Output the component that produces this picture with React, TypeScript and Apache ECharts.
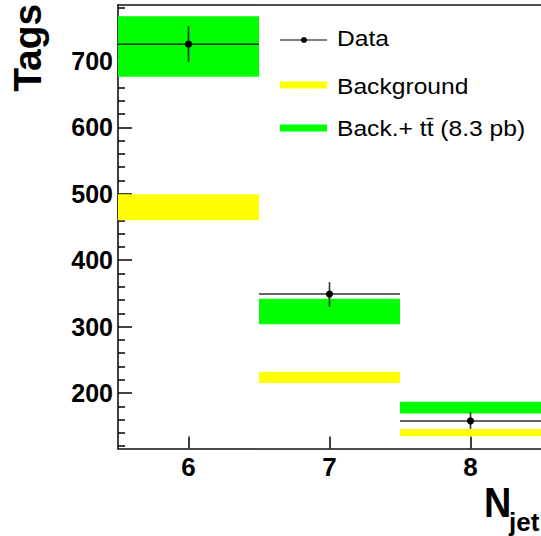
import React, { useEffect, useRef } from "react";
import * as echarts from "echarts";

const nJet = [6, 7, 8];
const dataVal = [725, 349, 158];
const dataLow = [698, 330, 146];
const dataHigh = [752, 367, 171];
const bgLow = [460, 215, 135];
const bgHigh = [499, 232, 146];
const totLow = [676, 303.5, 169];
const totHigh = [767, 342, 187];
const yMajorTicks = [200, 300, 400, 500, 600, 700];
const yMinorTicks = [120, 140, 160, 180, 220, 240, 260, 280, 320, 340, 360, 380, 420, 440, 460, 480, 520, 540, 560, 580, 620, 640, 660, 680, 720, 740, 760, 780];
const legendNames = ["Data", "Background", "Back.+ t\u0074\u0304 (8.3 pb)"];

const FONT = "'Liberation Sans', Arial, Helvetica, sans-serif";
const YELLOW = "#ffff00";
const GREEN = "#00ff00";

function bandRender(color: string) {
  return (params: any, api: any) => {
    const x = api.value(0);
    const lo = api.value(1);
    const hi = api.value(2);
    const p1 = api.coord([x - 0.5, hi]);
    const p2 = api.coord([x + 0.5, lo]);
    return {
      type: "rect",
      shape: { x: p1[0], y: p1[1], width: p2[0] - p1[0], height: p2[1] - p1[1] },
      style: { fill: color },
    };
  };
}

function dataRender(params: any, api: any) {
  const x = api.value(0);
  const v = api.value(1);
  const lo = api.value(2);
  const hi = api.value(3);
  const pl = api.coord([x - 0.5, v]);
  const pr = api.coord([x + 0.5, v]);
  const pc = api.coord([x, v]);
  const pt = api.coord([x, hi]);
  const pb = api.coord([x, lo]);
  const stroke = "rgba(0,0,0,0.8)";
  return {
    type: "group",
    children: [
      { type: "line", shape: { x1: pl[0], y1: pl[1], x2: pr[0], y2: pr[1] }, style: { stroke, lineWidth: 1.6 } },
      { type: "line", shape: { x1: pt[0], y1: pt[1], x2: pb[0], y2: pb[1] }, style: { stroke, lineWidth: 1.6 } },
      { type: "circle", shape: { cx: pc[0], cy: pc[1], r: 3.6 }, style: { fill: "#000" } },
    ],
  };
}

export default function App() {
  const ref = useRef<HTMLDivElement>(null);
  useEffect(() => {
    if (!ref.current) return;
    const chart = echarts.init(ref.current, null, { renderer: "svg" });
    const axisLine = { show: true, lineStyle: { color: "#111", width: 1.6 } };
    chart.setOption({
      animation: false,
      backgroundColor: "#fff",
      grid: { left: 118, top: 5, width: 424.5, height: 443.5, containLabel: false },
      xAxis: [
        {
          type: "value",
          min: 5.5,
          max: 8.5,
          position: "bottom",
          axisLine,
          axisTick: { show: true, inside: true, length: 12, lineStyle: { color: "#111", width: 1.6 }, customValues: nJet },
          axisLabel: {
            show: true,
            customValues: nJet,
            fontFamily: FONT,
            fontWeight: "bold",
            fontSize: 26,
            color: "#000",
            margin: 5,
          },
          splitLine: { show: false },
        },
        {
          type: "value",
          min: 5.5,
          max: 8.5,
          position: "top",
          axisLine,
          axisTick: { show: false },
          axisLabel: { show: false },
          splitLine: { show: false },
        },
      ],
      yAxis: [
        {
          type: "value",
          min: 116.5,
          max: 784,
          position: "left",
          axisLine,
          axisTick: { show: true, inside: true, length: 14, lineStyle: { color: "#111", width: 1.6 }, customValues: yMajorTicks },
          axisLabel: {
            show: true,
            customValues: yMajorTicks,
            fontFamily: FONT,
            fontWeight: "bold",
            fontSize: 25,
            color: "#000",
            margin: 5,
            padding: [0, 0, 6, 0],
          },
          splitLine: { show: false },
        },
        {
          type: "value",
          min: 116.5,
          max: 784,
          position: "left",
          axisLine: { show: false },
          axisTick: { show: true, inside: true, length: 7, lineStyle: { color: "#111", width: 1.6 }, customValues: yMinorTicks },
          axisLabel: { show: false },
          splitLine: { show: false },
        },
      ],
      series: [
        {
          type: "custom",
          name: legendNames[1],
          renderItem: bandRender(YELLOW),
          encode: { x: 0, y: [1, 2] },
          data: nJet.map((x, i) => [x, bgLow[i], bgHigh[i]]),
          z: 1,
        },
        {
          type: "custom",
          name: legendNames[2],
          renderItem: bandRender(GREEN),
          encode: { x: 0, y: [1, 2] },
          data: nJet.map((x, i) => [x, totLow[i], totHigh[i]]),
          z: 2,
        },
        {
          type: "custom",
          name: legendNames[0],
          renderItem: dataRender,
          encode: { x: 0, y: [1, 2, 3] },
          data: nJet.map((x, i) => [x, dataVal[i], dataLow[i], dataHigh[i]]),
          z: 3,
        },
      ],
      graphic: [
        { type: "line", shape: { x1: 280, y1: 40, x2: 327, y2: 40 }, style: { stroke: "#000", lineWidth: 1.2 } },
        { type: "circle", shape: { cx: 304, cy: 40, r: 3 }, style: { fill: "#000" } },
        {
          type: "text",
          x: 337,
          y: 38.7,
          scaleX: 1.12,
          style: { text: legendNames[0], font: `22px ${FONT}`, fill: "#000", align: "left", verticalAlign: "middle" },
        },
        { type: "rect", shape: { x: 280, y: 81.5, width: 47, height: 7 }, style: { fill: YELLOW } },
        {
          type: "text",
          x: 337,
          y: 86,
          scaleX: 1.12,
          style: { text: legendNames[1], font: `22px ${FONT}`, fill: "#000", align: "left", verticalAlign: "middle" },
        },
        { type: "rect", shape: { x: 280, y: 124.5, width: 47, height: 7 }, style: { fill: GREEN } },
        {
          type: "text",
          x: 337,
          y: 128.5,
          scaleX: 1.12,
          style: { text: legendNames[2], font: `22px ${FONT}`, fill: "#000", align: "left", verticalAlign: "middle" },
        },
        {
          type: "text",
          x: 27,
          y: 47.8,
          rotation: Math.PI / 2,
          style: { text: "Tags", font: `bold 39px ${FONT}`, fill: "#000", align: "center", verticalAlign: "middle" },
        },
        {
          type: "text",
          x: 484,
          y: 502.5,
          scaleX: 0.88,
          style: { text: "N", font: `bold 43px ${FONT}`, fill: "#000", align: "left", verticalAlign: "middle" },
        },
        {
          type: "text",
          x: 509,
          y: 522,
          style: { text: "jet", font: `bold 26px ${FONT}`, fill: "#000", align: "left", verticalAlign: "middle" },
        },
      ],
    });
    return () => chart.dispose();
  }, []);
  return <div ref={ref} style={{ position: "fixed", left: 0, top: 0, width: 541, height: 536 }} />;
}
